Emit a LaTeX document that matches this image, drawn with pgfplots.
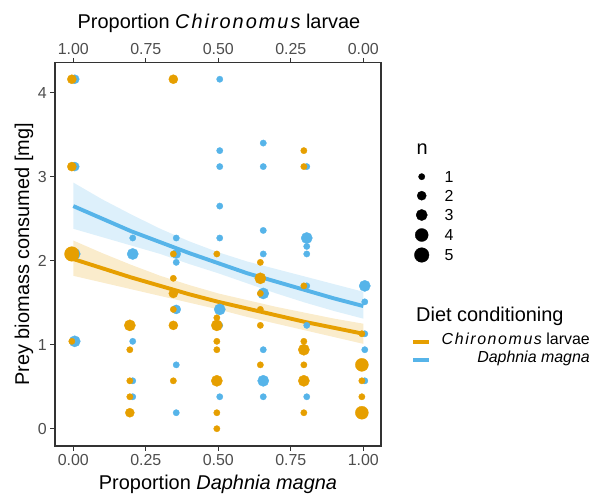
\documentclass[border=0pt]{standalone}
\usepackage{fontspec}
\setmainfont{Liberation Sans}
\newfontfamily\spfont[LetterSpace=10]{Liberation Sans}
\usepackage{pgfplots}
\usepackage{pgfplotstable}
\pgfplotsset{compat=1.18}
\definecolor{corange}{HTML}{E69F00}
\definecolor{cblue}{HTML}{56B4E9}
\definecolor{axgray}{HTML}{333333}
\definecolor{tickgray}{HTML}{4D4D4D}

% Chironomus-conditioned fish (orange), x slightly dodged left
\pgfplotstableread{
x y n
-0.005 4.16 2
-0.005 3.12 2
-0.005 2.08 5
-0.005 1.04 1
0.195 1.23 3
0.195 0.94 1
0.195 0.57 1
0.195 0.38 1
0.195 0.19 2
0.345 4.16 2
0.345 2.08 1
0.345 1.79 1
0.345 1.61 2
0.345 1.42 1
0.345 1.23 2
0.345 0.57 1
0.495 2.08 1
0.495 1.32 1
0.495 1.23 3
0.495 1.04 1
0.495 0.94 1
0.495 0.57 3
0.495 0.19 1
0.495 0.00 1
0.645 1.98 1
0.645 1.79 3
0.645 1.61 1
0.645 1.42 1
0.645 1.23 1
0.645 0.76 1
0.795 3.31 1
0.795 3.12 1
0.795 1.70 1
0.795 1.04 1
0.795 0.94 3
0.795 0.76 1
0.795 0.57 3
0.795 0.19 1
0.995 1.13 1
0.995 0.76 4
0.995 0.57 1
0.995 0.38 1
0.995 0.19 4
}\chirdata

% Daphnia-conditioned fish (blue), x slightly dodged right
\pgfplotstableread{
x y n
0.005 4.16 2
0.005 3.12 2
0.005 2.08 3
0.005 1.04 3
0.205 2.27 1
0.205 2.08 3
0.205 1.04 1
0.205 0.57 1
0.205 0.38 1
0.355 2.27 1
0.355 2.08 2
0.355 1.98 1
0.355 1.42 2
0.355 0.76 1
0.355 0.19 1
0.505 4.16 1
0.505 3.31 1
0.505 3.12 1
0.505 2.65 1
0.505 2.27 1
0.505 1.42 3
0.505 1.23 1
0.505 0.38 1
0.655 3.40 1
0.655 3.12 1
0.655 2.36 1
0.655 2.08 1
0.655 1.61 3
0.655 0.94 1
0.655 0.57 3
0.655 0.38 1
0.805 3.12 1
0.805 2.27 3
0.805 2.17 1
0.805 2.08 1
0.805 1.70 1
0.805 1.23 1
0.805 0.38 1
1.005 1.70 3
1.005 1.51 1
1.005 1.13 1
1.005 0.94 1
1.005 0.76 1
1.005 0.57 1
}\daphdata

\pgfplotsset{
  sizedots/.style={scatter, only marks, mark=*, color=#1,
    mark options={draw=#1, fill=#1, line width=0.3bp},
    scatter/use mapped color={draw=#1, fill=#1},
    visualization depends on={3.35*sqrt(\thisrow{n})-0.15 \as \msz},
    scatter/@pre marker code/.append style={/tikz/mark size=\msz}},
}

\begin{document}
\begin{tikzpicture}[x=1bp,y=1bp]
\path[use as bounding box] (0,0) rectangle (594,495);

% main panel
\begin{axis}[
  at={(55bp,49bp)}, anchor=south west, scale only axis,
  width=326bp, height=383.3bp,
  xmin=-0.063, xmax=1.061, ymin=-0.206, ymax=4.357,
  axis line style={axgray, line width=1.1bp},
  xtick={0,0.25,0.5,0.75,1}, xticklabels={0.00,0.25,0.50,0.75,1.00},
  ytick={0,1,2,3,4}, yticklabels={0,1,2,3,4},
  xtick pos=bottom, ytick pos=left,
  tick align=outside, major tick length=4.7bp,
  tick style={axgray, line width=1.1bp},
  tick label style={font=\fontsize{16}{19}\selectfont, text=tickgray},
]
\addplot[sizedots=cblue] table[x=x,y=y,meta=n] {\daphdata};
\addplot[sizedots=corange] table[x=x,y=y,meta=n] {\chirdata};

% confidence ribbons
\addplot[draw=none, fill=cblue, fill opacity=0.2] coordinates {
 (0,2.93)(0.1,2.73)(0.2,2.55)(0.3,2.38)(0.4,2.23)(0.5,2.10)(0.6,1.99)(0.7,1.90)(0.8,1.81)(0.9,1.72)(1,1.63)
 (1,1.31)(0.9,1.40)(0.8,1.50)(0.7,1.61)(0.6,1.73)(0.5,1.85)(0.4,1.96)(0.3,2.08)(0.2,2.18)(0.1,2.28)(0,2.38)} -- cycle;
\addplot[draw=none, fill=corange, fill opacity=0.2] coordinates {
 (0,2.24)(0.1,2.09)(0.2,1.95)(0.3,1.82)(0.4,1.71)(0.5,1.61)(0.6,1.53)(0.7,1.45)(0.8,1.38)(0.9,1.31)(1,1.25)
 (1,1.01)(0.9,1.09)(0.8,1.17)(0.7,1.25)(0.6,1.33)(0.5,1.42)(0.4,1.50)(0.3,1.58)(0.2,1.66)(0.1,1.74)(0,1.82)} -- cycle;

% fitted curves
\addplot[cblue, line width=3.9bp, no marks] coordinates {
 (0,2.65)(0.1,2.50)(0.2,2.35)(0.3,2.22)(0.4,2.09)(0.5,1.97)(0.6,1.85)(0.7,1.75)(0.8,1.65)(0.9,1.55)(1,1.46)};
\addplot[corange, line width=3.9bp, no marks] coordinates {
 (0,2.02)(0.1,1.91)(0.2,1.80)(0.3,1.70)(0.4,1.60)(0.5,1.51)(0.6,1.43)(0.7,1.35)(0.8,1.27)(0.9,1.20)(1,1.13)};
\end{axis}

% top secondary axis
\begin{axis}[
  at={(55bp,49bp)}, anchor=south west, scale only axis,
  width=326bp, height=383.3bp,
  xmin=-0.063, xmax=1.061, ymin=-0.206, ymax=4.357,
  axis x line*=top, axis y line=none,
  axis line style={axgray, line width=1.1bp},
  xtick={0,0.25,0.5,0.75,1}, xticklabels={1.00,0.75,0.50,0.25,0.00},
  tick align=outside, major tick length=4.7bp,
  tick style={axgray, line width=1.1bp},
  tick label style={font=\fontsize{16}{19}\selectfont, text=tickgray},
]
\addplot[draw=none] coordinates {(0,0)};
\end{axis}

% overlay in picture pixel coordinates: titles and legends
\begin{axis}[
  at={(0bp,0bp)}, anchor=south west, scale only axis,
  width=594bp, height=495bp,
  xmin=0, xmax=594, ymin=0, ymax=495, y dir=reverse,
  hide axis, clip=false,
]
\node[anchor=base, font=\fontsize{20}{24}\selectfont] at (axis cs:218,489) {Proportion \textit{Daphnia magna}};
\node[anchor=base, font=\fontsize{20}{24}\selectfont] at (axis cs:219,28.3) {Proportion {\spfont\itshape Chironomus} larvae};
\node[anchor=base, rotate=90, font=\fontsize{20}{24}\selectfont] at (axis cs:29,254.4) {Prey biomass consumed [mg]};

% size legend
\node[anchor=base west, font=\fontsize{20}{24}\selectfont] at (axis cs:413,155) {n};
\addplot[sizedots=black] table[x=x,y=y,meta=n] {
x y n
421.7 176.7 1
421.7 195.7 2
421.7 215.0 3
421.7 235.0 4
421.7 255.0 5
};
\node[anchor=base west, font=\fontsize{16}{19}\selectfont] at (axis cs:441,182.4) {1};
\node[anchor=base west, font=\fontsize{16}{19}\selectfont] at (axis cs:441,201.4) {2};
\node[anchor=base west, font=\fontsize{16}{19}\selectfont] at (axis cs:441,220.7) {3};
\node[anchor=base west, font=\fontsize{16}{19}\selectfont] at (axis cs:441,240.7) {4};
\node[anchor=base west, font=\fontsize{16}{19}\selectfont] at (axis cs:441,260.7) {5};

% colour legend
\node[anchor=base west, font=\fontsize{20}{24}\selectfont] at (axis cs:412.7,321.7) {Diet conditioning};
\addplot[corange, line width=3.9bp, no marks] coordinates {(413,341.7)(429,341.7)};
\addplot[cblue, line width=3.9bp, no marks] coordinates {(413,360)(429,360)};
\node[anchor=mid east, inner sep=0pt, font=\fontsize{16}{19}\selectfont] at (axis cs:590,341.7) {{\spfont\itshape Chironomus} larvae};
\node[anchor=mid east, inner sep=0pt, font=\fontsize{16}{19}\selectfont] at (axis cs:590,360) {\textit{Daphnia magna}};
\end{axis}
\end{tikzpicture}
\end{document}
